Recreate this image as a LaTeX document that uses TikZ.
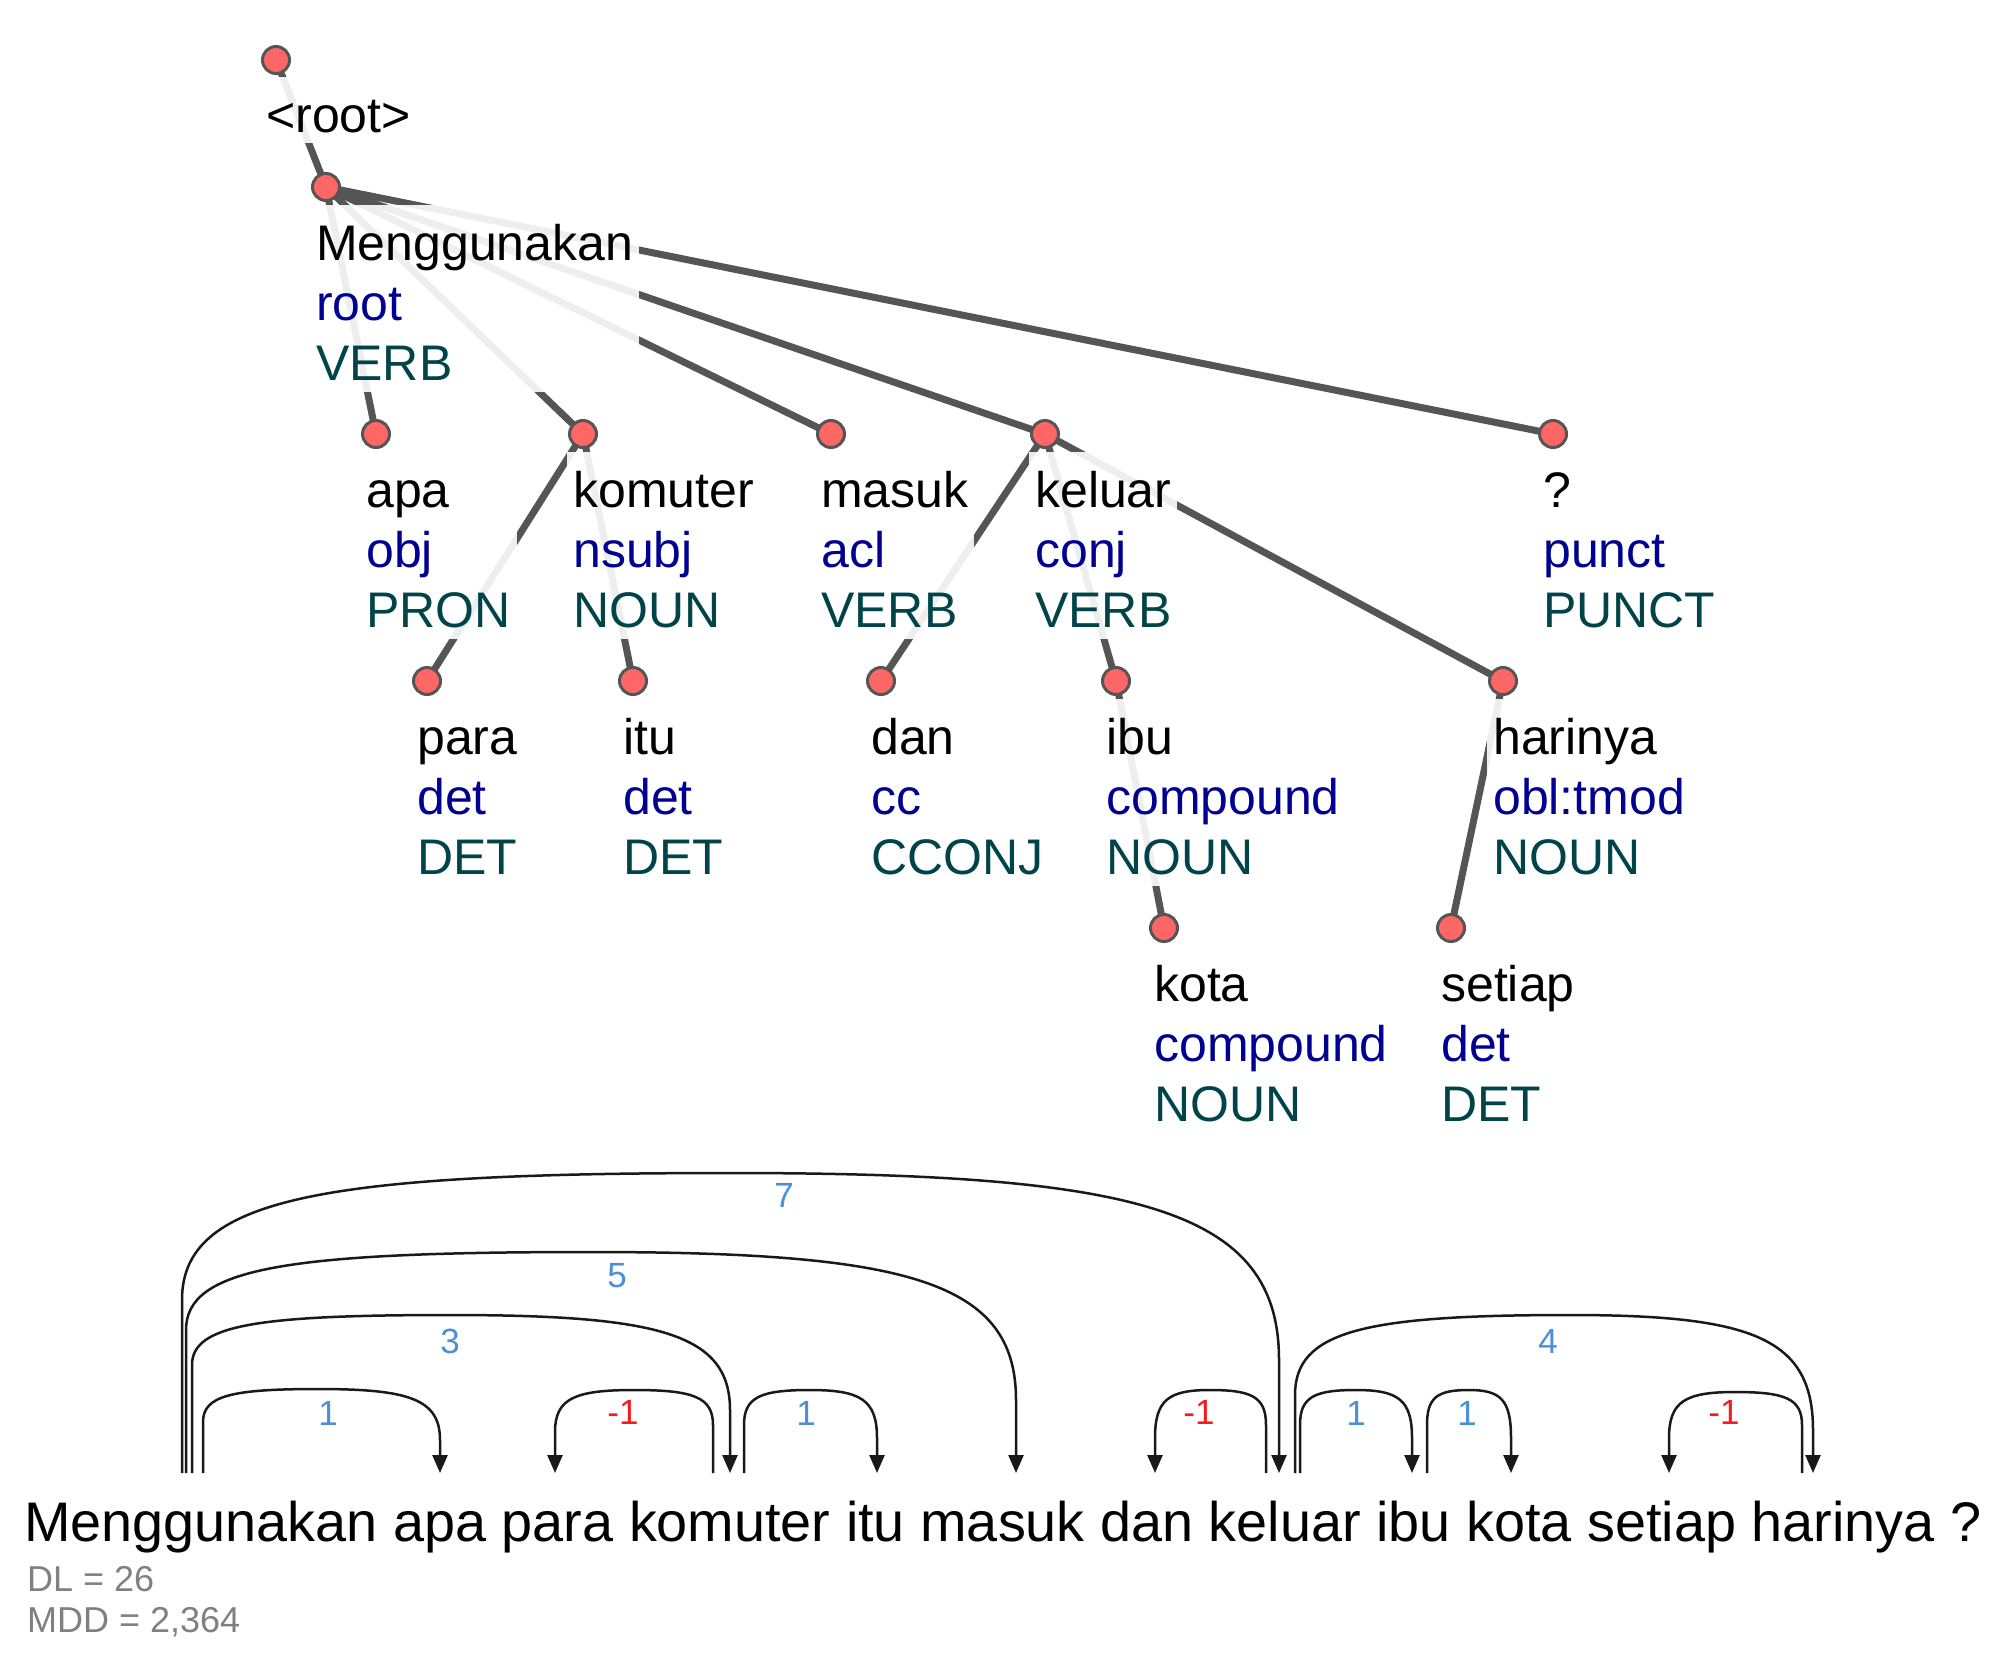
\documentclass[tikz,border=0pt]{standalone}
\usepackage{fontspec}
\setmainfont{Liberation Sans}
\usetikzlibrary{arrows.meta}
\definecolor{edgegray}{RGB}{85,85,85}
\definecolor{dotfill}{RGB}{255,102,102}
\definecolor{deprel}{RGB}{0,0,145}
\definecolor{upos}{RGB}{0,68,74}
\definecolor{arcblack}{RGB}{25,25,25}
\definecolor{arcblue}{RGB}{74,144,217}
\definecolor{arcred}{RGB}{240,30,30}
\definecolor{statgray}{RGB}{128,128,128}
\pgfdeclarelayer{edgelayer}
\pgfdeclarelayer{boxlayer}
\pgfsetlayers{edgelayer,boxlayer,main}
\newcommand{\udtok}[3]{\vbox{\baselineskip=60pt\lineskiplimit=-1000pt\lineskip=0pt
\hbox{\rule{0pt}{55pt}#1}
\hbox{\color{deprel}#2}
\hbox{\color{upos}#3\rule[-12pt]{0pt}{12pt}}}}
\newcommand{\udrootlab}[1]{\vbox{\hbox{\rule{0pt}{55pt}#1\rule[-11pt]{0pt}{11pt}}}}
% #1 start coord, #2 end coord, #3 x1, #4 x2, #5 xm, #6 peak y, #7 yv start side, #8 yv end side
\newcommand{\udarc}[8]{\draw[arcline] (#1) -- (#3,#7) .. controls (#3,{#7-0.8*(#7-#6)}) and ({#5-0.75*(#5-#3)},#6) .. (#5,#6) .. controls ({#5+0.75*(#4-#5)},#6) and (#4,{#8-0.8*(#8-#6)}) .. (#4,#8) -- (#2);}
\begin{document}
\begin{tikzpicture}[x=1pt,y=-1pt,
  dot/.style={circle, fill=dotfill, draw=edgegray, line width=3pt, minimum size=27pt, inner sep=0pt},
  lab/.style={anchor=north west, inner xsep=6pt, inner ysep=0pt, fill=white, fill opacity=0.9, text opacity=1, font=\fontsize{50}{60}\selectfont},
  treeedge/.style={line width=7pt, draw=edgegray},
  arcline/.style={line width=2.5pt, draw=arcblack, -{Triangle[length=18pt,width=15pt]}},
  arclab/.style={inner sep=0pt, font=\fontsize{35}{40}\selectfont},
  stat/.style={anchor=base west, inner sep=0pt, text=statgray, font=\fontsize{36}{40}\selectfont}]
\useasboundingbox (0,0) rectangle (2010,1674);
% tree dots
\node[dot] (t-root) at (276,60) {};
\node[dot] (t-meng) at (326,187) {};
\node[dot] (t-apa) at (376,434) {};
\node[dot] (t-kom) at (583,434) {};
\node[dot] (t-mas) at (831,434) {};
\node[dot] (t-kel) at (1045,434) {};
\node[dot] (t-q) at (1553,434) {};
\node[dot] (t-para) at (427,681) {};
\node[dot] (t-itu) at (633,681) {};
\node[dot] (t-dan) at (881,681) {};
\node[dot] (t-ibu) at (1116,681) {};
\node[dot] (t-har) at (1503,681) {};
\node[dot] (t-kota) at (1164,928) {};
\node[dot] (t-set) at (1451,928) {};
% labels
\begin{pgfonlayer}{boxlayer}
\node[lab] (l-root) at ([shift={(-16,17)}]t-root.center) {\udrootlab{<root>}};
\node[lab] (l-meng) at ([shift={(-16,18)}]t-meng.center) {\udtok{Menggunakan}{root}{VERB}};
\node[lab] (l-apa) at ([shift={(-16,18)}]t-apa.center) {\udtok{apa}{obj}{PRON}};
\node[lab] (l-kom) at ([shift={(-16,18)}]t-kom.center) {\udtok{komuter}{nsubj}{NOUN}};
\node[lab] (l-mas) at ([shift={(-16,18)}]t-mas.center) {\udtok{masuk}{acl}{VERB}};
\node[lab] (l-kel) at ([shift={(-16,18)}]t-kel.center) {\udtok{keluar}{conj}{VERB}};
\node[lab] (l-q) at ([shift={(-16,18)}]t-q.center) {\udtok{?}{punct}{PUNCT}};
\node[lab] (l-para) at ([shift={(-16,18)}]t-para.center) {\udtok{para}{det}{DET}};
\node[lab] (l-itu) at ([shift={(-16,18)}]t-itu.center) {\udtok{itu}{det}{DET}};
\node[lab] (l-dan) at ([shift={(-16,18)}]t-dan.center) {\udtok{dan}{cc}{CCONJ}};
\node[lab] (l-ibu) at ([shift={(-16,18)}]t-ibu.center) {\udtok{ibu}{compound}{NOUN}};
\node[lab] (l-har) at ([shift={(-16,18)}]t-har.center) {\udtok{harinya}{obl:tmod}{NOUN}};
\node[lab] (l-kota) at ([shift={(-16,18)}]t-kota.center) {\udtok{kota}{compound}{NOUN}};
\node[lab] (l-set) at ([shift={(-16,18)}]t-set.center) {\udtok{setiap}{det}{DET}};
\end{pgfonlayer}
% tree edges
\begin{pgfonlayer}{edgelayer}
\draw[treeedge] (t-root.center) -- (t-meng.center);
\draw[treeedge] (t-meng.center) -- (t-apa.center);
\draw[treeedge] (t-meng.center) -- (t-kom.center);
\draw[treeedge] (t-meng.center) -- (t-mas.center);
\draw[treeedge] (t-meng.center) -- (t-kel.center);
\draw[treeedge] (t-meng.center) -- (t-q.center);
\draw[treeedge] (t-kom.center) -- (t-para.center);
\draw[treeedge] (t-kom.center) -- (t-itu.center);
\draw[treeedge] (t-kel.center) -- (t-dan.center);
\draw[treeedge] (t-kel.center) -- (t-ibu.center);
\draw[treeedge] (t-kel.center) -- (t-har.center);
\draw[treeedge] (t-ibu.center) -- (t-kota.center);
\draw[treeedge] (t-har.center) -- (t-set.center);
\end{pgfonlayer}
% sentence
\node[anchor=base west, inner sep=0pt, font=\fontsize{55.8}{60}\selectfont] (sent) at (24,1541) {Menggunakan apa para komuter itu masuk dan keluar ibu kota setiap harinya ?};
\node[stat] (dl) at (27,1591) {DL = 26};
\node[stat] (mdd) at (27,1632) {MDD = 2,364};
% arc end points
\coordinate (a1s) at (203,1473); \coordinate (a1e) at (440,1473);
\coordinate (a2s) at (192,1473); \coordinate (a2e) at (730,1473);
\coordinate (a3s) at (186,1473); \coordinate (a3e) at (1016,1473);
\coordinate (a4s) at (182,1473); \coordinate (a4e) at (1279,1473);
\coordinate (a5s) at (713,1473); \coordinate (a5e) at (555,1473);
\coordinate (a6s) at (744,1473); \coordinate (a6e) at (877,1473);
\coordinate (a7s) at (1266,1473); \coordinate (a7e) at (1155,1473);
\coordinate (a8s) at (1300,1473); \coordinate (a8e) at (1412,1473);
\coordinate (a9s) at (1295,1473); \coordinate (a9e) at (1813,1473);
\coordinate (a10s) at (1427,1473); \coordinate (a10e) at (1511,1473);
\coordinate (a11s) at (1802,1473); \coordinate (a11e) at (1669,1473);
\udarc{a1s}{a1e}{203}{440}{318}{1389}{1422}{1440}
\udarc{a2s}{a2e}{192}{730}{450}{1315}{1365}{1410}
\udarc{a3s}{a3e}{186}{1016}{590}{1252}{1330}{1400}
\udarc{a4s}{a4e}{182}{1279}{730}{1173}{1300}{1360}
\udarc{a5s}{a5e}{713}{555}{634}{1390}{1425}{1432}
\udarc{a6s}{a6e}{744}{877}{810}{1390}{1425}{1438}
\udarc{a7s}{a7e}{1266}{1155}{1210}{1390}{1425}{1438}
\udarc{a8s}{a8e}{1300}{1412}{1356}{1390}{1425}{1438}
\udarc{a9s}{a9e}{1295}{1813}{1570}{1315}{1395}{1430}
\udarc{a10s}{a10e}{1427}{1511}{1469}{1390}{1425}{1438}
\udarc{a11s}{a11e}{1802}{1669}{1735}{1392}{1425}{1438}
% arc labels
\node[arclab, text=arcblue] (n1) at (328,1413) {1};
\node[arclab, text=arcblue] (n2) at (450,1341) {3};
\node[arclab, text=arcblue] (n3) at (617,1276) {5};
\node[arclab, text=arcblue] (n4) at (784,1195) {7};
\node[arclab, text=arcred] (n5) at (623,1412) {-1};
\node[arclab, text=arcblue] (n6) at (806,1413) {1};
\node[arclab, text=arcred] (n7) at (1199,1412) {-1};
\node[arclab, text=arcblue] (n8) at (1356,1413) {1};
\node[arclab, text=arcblue] (n9) at (1548,1341) {4};
\node[arclab, text=arcblue] (n10) at (1467,1413) {1};
\node[arclab, text=arcred] (n11) at (1724,1412) {-1};
\end{tikzpicture}
\end{document}
